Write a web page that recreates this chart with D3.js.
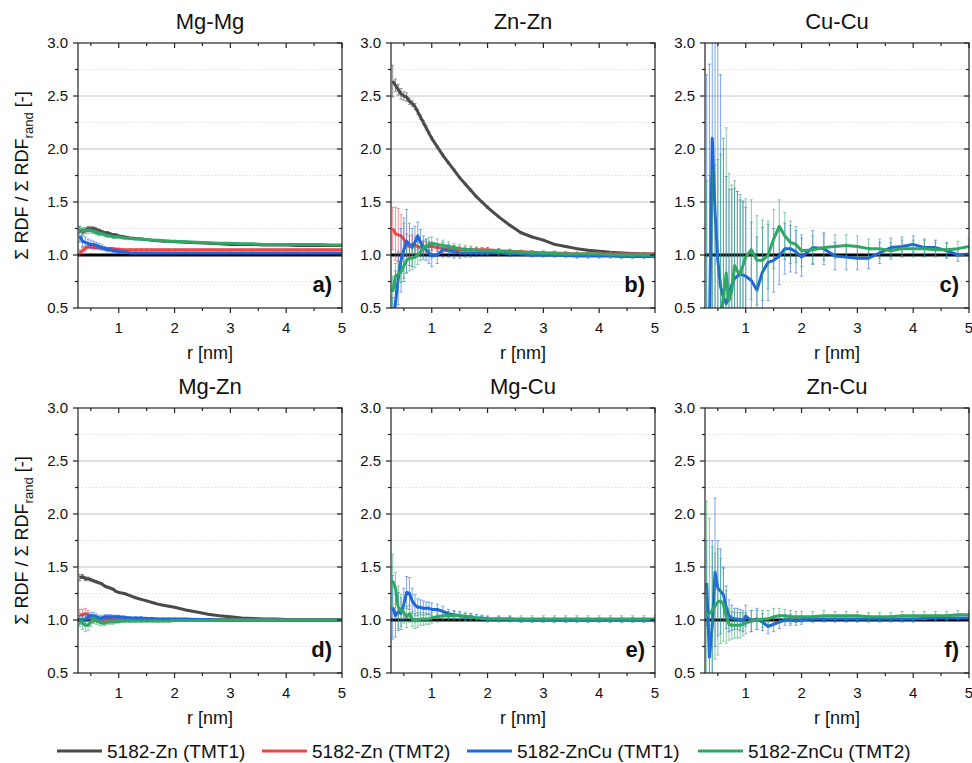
<!DOCTYPE html>
<html>
<head>
<meta charset="utf-8">
<script src="https://cdn.jsdelivr.net/npm/d3@7"></script>
<style>
  body { margin: 0; background: #fff; }
  svg text { font-family: "Liberation Sans", Arial, sans-serif; fill: #111; }
</style>
</head>
<body>
<svg id="chart" width="972" height="763"></svg>
<script>
// shared r grid [nm]
const rGrid = [0.3,0.35,0.4,0.45,0.5,0.55,0.6,0.65,0.7,0.75,0.8,0.85,0.9,0.95,1.0,1.1,1.2,1.3,1.4,1.5,1.6,1.7,1.8,1.9,2.0,2.2,2.4,2.6,2.8,3.0,3.2,3.4,3.6,3.8,4.0,4.2,4.4,4.6,4.8,5.0]

const seriesNames = ["5182-Zn (TMT1)", "5182-Zn (TMT2)", "5182-ZnCu (TMT1)", "5182-ZnCu (TMT2)"]
const seriesColors = ["#4a4a4a", "#f04646", "#1f66dc", "#2fa865"]
const panelTitles = ["Mg-Mg", "Zn-Zn", "Cu-Cu", "Mg-Zn", "Mg-Cu", "Zn-Cu"]
const panelTags = ["a)", "b)", "c)", "d)", "e)", "f)"]
const xTicks = [1, 2, 3, 4, 5]
const yTicks = [0.5, 1.0, 1.5, 2.0, 2.5, 3.0]

// a) Mg-Mg
const mgMg_zn1 = [1.24,1.22,1.23,1.25,1.25,1.25,1.24,1.23,1.22,1.21,1.21,1.2,1.19,1.19,1.18,1.17,1.16,1.155,1.15,1.145,1.14,1.135,1.13,1.13,1.125,1.12,1.115,1.11,1.105,1.1,1.1,1.1,1.095,1.095,1.095,1.09,1.09,1.09,1.09,1.09]
const mgMg_zn1_err = [0.03,0.025,0.02,0.02,0.02,0.015,0.015,0.015,0.012,0.012,0.01,0.01,0.01,0.01,0.01,0.008,0.008,0.008,0.008,0.008,0.006,0.006,0.006,0.006,0.006,0.006,0.006,0.006,0.006,0.006,0.006,0.006,0.006,0.006,0.006,0.006,0.006,0.006,0.006,0.006]
const mgMg_zn2 = [1.02,1.04,1.06,1.08,1.08,1.07,1.07,1.07,1.065,1.06,1.06,1.06,1.06,1.055,1.055,1.05,1.05,1.05,1.05,1.05,1.05,1.05,1.05,1.05,1.05,1.05,1.05,1.05,1.05,1.05,1.05,1.05,1.05,1.05,1.05,1.05,1.05,1.05,1.05,1.05]
const mgMg_zn2_err = [0.03,0.03,0.025,0.02,0.02,0.02,0.015,0.015,0.012,0.012,0.01,0.01,0.01,0.01,0.01,0.008,0.008,0.008,0.008,0.008,0.006,0.006,0.006,0.006,0.006,0.006,0.006,0.006,0.006,0.006,0.006,0.006,0.006,0.006,0.006,0.006,0.006,0.006,0.006,0.006]
const mgMg_zncu1 = [1.18,1.13,1.12,1.11,1.1,1.1,1.09,1.08,1.07,1.06,1.05,1.05,1.04,1.04,1.03,1.03,1.02,1.02,1.02,1.02,1.02,1.02,1.02,1.02,1.02,1.02,1.02,1.02,1.02,1.02,1.02,1.02,1.02,1.02,1.02,1.02,1.02,1.02,1.02,1.02]
const mgMg_zncu1_err = [0.06,0.05,0.05,0.04,0.04,0.03,0.03,0.03,0.025,0.02,0.02,0.02,0.015,0.015,0.015,0.01,0.01,0.01,0.01,0.01,0.008,0.008,0.008,0.008,0.008,0.006,0.006,0.006,0.006,0.006,0.006,0.006,0.006,0.006,0.006,0.006,0.006,0.006,0.006,0.006]
const mgMg_zncu2 = [1.24,1.23,1.23,1.23,1.23,1.22,1.21,1.2,1.2,1.19,1.18,1.18,1.17,1.17,1.17,1.16,1.155,1.15,1.15,1.145,1.14,1.14,1.135,1.13,1.13,1.125,1.12,1.115,1.11,1.11,1.105,1.105,1.1,1.1,1.1,1.1,1.1,1.1,1.095,1.095]
const mgMg_zncu2_err = [0.03,0.03,0.03,0.025,0.025,0.02,0.02,0.02,0.015,0.015,0.012,0.012,0.012,0.01,0.01,0.01,0.01,0.008,0.008,0.008,0.008,0.008,0.008,0.008,0.008,0.006,0.006,0.006,0.006,0.006,0.006,0.006,0.006,0.006,0.006,0.006,0.006,0.006,0.006,0.006]

// b) Zn-Zn
const znZn_zn1 = [2.64,2.6,2.56,2.52,2.5,2.49,2.45,2.43,2.4,2.35,2.3,2.25,2.2,2.15,2.1,2.02,1.94,1.87,1.8,1.73,1.67,1.61,1.55,1.5,1.45,1.36,1.28,1.21,1.17,1.14,1.1,1.08,1.06,1.045,1.035,1.025,1.02,1.015,1.01,1.01]
const znZn_zn1_err = [0.15,0.06,0.05,0.05,0.04,0.04,0.03,0.03,0.03,0.025,0.02,0.02,0.02,0.015,0.015,0.012,0.012,0.01,0.01,0.01,0.01,0.01,0.01,0.01,0.01,0.008,0.008,0.008,0.008,0.008,0.008,0.008,0.008,0.008,0.008,0.008,0.008,0.008,0.008,0.008]
const znZn_zn2 = [1.25,1.2,1.19,1.18,1.15,1.1,1.08,1.1,1.09,1.08,1.07,1.08,1.08,1.08,1.08,1.07,1.06,1.06,1.055,1.05,1.05,1.05,1.05,1.05,1.05,1.04,1.035,1.03,1.025,1.02,1.02,1.015,1.01,1.01,1.01,1.01,1.01,1.01,1.01,1.01]
const znZn_zn2_err = [0.2,0.25,0.25,0.2,0.15,0.1,0.1,0.09,0.08,0.07,0.06,0.05,0.05,0.045,0.04,0.035,0.035,0.03,0.03,0.03,0.025,0.025,0.02,0.02,0.02,0.02,0.015,0.015,0.015,0.015,0.015,0.015,0.015,0.015,0.015,0.015,0.015,0.015,0.015,0.015]
const znZn_zncu1 = [0.3,0.55,0.78,0.95,1.05,1.13,1.1,1.07,1.12,1.18,1.12,1.07,1.05,1.02,0.99,1.0,1.05,1.04,1.03,1.02,1.02,1.02,1.02,1.02,1.02,1.02,1.01,1.01,1.0,1.0,1.0,0.995,0.99,0.99,0.99,0.99,0.985,0.985,0.985,0.985]
const znZn_zncu1_err = [0.3,0.3,0.25,0.3,0.3,0.3,0.2,0.18,0.15,0.13,0.12,0.11,0.1,0.1,0.1,0.08,0.07,0.06,0.06,0.05,0.04,0.04,0.035,0.03,0.03,0.025,0.025,0.02,0.02,0.02,0.02,0.02,0.02,0.02,0.02,0.02,0.02,0.02,0.02,0.02]
const znZn_zncu2 = [0.65,0.8,0.82,0.84,0.9,0.95,0.97,0.97,0.98,1.0,1.03,1.06,1.08,1.1,1.11,1.1,1.09,1.08,1.07,1.06,1.055,1.05,1.045,1.04,1.04,1.035,1.03,1.025,1.02,1.02,1.015,1.01,1.01,1.01,1.01,1.005,1.0,1.0,1.0,1.0]
const znZn_zncu2_err = [0.15,0.12,0.12,0.1,0.12,0.12,0.12,0.11,0.1,0.09,0.08,0.07,0.07,0.065,0.06,0.05,0.05,0.045,0.04,0.04,0.035,0.035,0.03,0.03,0.03,0.025,0.025,0.02,0.02,0.02,0.02,0.02,0.02,0.02,0.02,0.02,0.02,0.02,0.02,0.02]

// c) Cu-Cu
const cuCu_zncu1 = [0.2,0.3,2.1,1.4,0.95,0.7,0.6,0.54,0.62,0.72,0.78,0.8,0.82,0.81,0.8,0.76,0.67,0.84,0.93,0.95,0.99,1.06,1.06,1.03,0.98,1.07,1.06,0.99,0.98,0.97,0.97,1.02,1.07,1.08,1.1,1.07,1.07,1.04,1.0,1.01]
const cuCu_zncu1_err = [2.5,2.5,2.5,2.5,2.5,2.0,1.5,1.2,1.0,0.9,0.85,0.8,0.75,0.7,0.65,0.55,0.5,0.42,0.36,0.3,0.27,0.24,0.22,0.2,0.18,0.16,0.15,0.13,0.12,0.11,0.1,0.1,0.09,0.09,0.08,0.08,0.07,0.07,0.06,0.06]
const cuCu_zncu2 = [0.2,0.25,0.3,0.35,0.4,0.45,0.6,0.83,0.57,0.66,0.9,0.85,0.82,0.9,0.98,1.05,0.95,0.95,1.0,1.15,1.27,1.18,1.12,1.1,1.04,1.05,1.07,1.08,1.09,1.08,1.06,1.06,1.04,1.06,1.06,1.06,1.05,1.05,1.06,1.08]
const cuCu_zncu2_err = [1.5,1.5,1.5,1.5,1.5,1.5,1.4,1.37,1.2,1.0,0.8,0.75,0.7,0.6,0.55,0.47,0.42,0.38,0.32,0.28,0.25,0.22,0.2,0.17,0.15,0.13,0.12,0.11,0.1,0.1,0.09,0.09,0.08,0.08,0.08,0.08,0.07,0.07,0.07,0.07]

// d) Mg-Zn
const mgZn_zn1 = [1.4,1.41,1.39,1.39,1.38,1.37,1.36,1.35,1.34,1.32,1.31,1.3,1.29,1.27,1.26,1.25,1.23,1.21,1.195,1.18,1.165,1.15,1.14,1.13,1.12,1.095,1.075,1.055,1.04,1.03,1.02,1.015,1.01,1.01,1.005,1.0,1.0,1.0,1.0,1.0]
const mgZn_zn1_err = [0.03,0.02,0.02,0.015,0.015,0.012,0.012,0.01,0.01,0.01,0.01,0.008,0.008,0.008,0.008,0.008,0.006,0.006,0.006,0.006,0.006,0.006,0.006,0.006,0.006,0.005,0.005,0.005,0.005,0.005,0.005,0.005,0.005,0.005,0.005,0.005,0.005,0.005,0.005,0.005]
const mgZn_zn2 = [1.05,1.05,1.06,1.05,1.02,1.0,1.01,1.0,1.0,1.0,1.0,1.0,1.005,1.005,1.005,1.0,1.0,1.0,1.0,1.0,1.0,1.0,1.0,1.0,1.0,1.0,1.0,1.0,1.0,1.0,1.0,1.0,1.0,1.0,1.0,1.0,1.0,1.0,1.0,1.0]
const mgZn_zn2_err = [0.05,0.05,0.05,0.04,0.03,0.03,0.025,0.02,0.02,0.02,0.015,0.015,0.015,0.012,0.012,0.01,0.01,0.01,0.01,0.01,0.008,0.008,0.008,0.008,0.008,0.006,0.006,0.006,0.006,0.006,0.006,0.006,0.006,0.006,0.006,0.006,0.006,0.006,0.006,0.006]
const mgZn_zncu1 = [1.0,1.0,1.01,1.03,1.04,1.04,1.03,1.02,1.02,1.03,1.03,1.03,1.03,1.03,1.03,1.025,1.02,1.02,1.02,1.015,1.015,1.01,1.01,1.01,1.01,1.01,1.005,1.005,1.0,1.0,1.0,1.0,1.0,1.0,1.0,1.0,1.0,1.0,1.0,1.0]
const mgZn_zncu1_err = [0.04,0.04,0.04,0.035,0.03,0.03,0.025,0.025,0.02,0.02,0.02,0.02,0.015,0.015,0.015,0.012,0.012,0.01,0.01,0.01,0.01,0.008,0.008,0.008,0.008,0.006,0.006,0.006,0.006,0.006,0.006,0.006,0.006,0.006,0.006,0.006,0.006,0.006,0.006,0.006]
const mgZn_zncu2 = [0.99,0.97,0.95,0.95,0.98,1.01,0.99,0.98,0.97,0.97,0.98,0.98,0.98,0.985,0.985,0.99,0.99,0.99,0.99,0.99,0.99,0.99,0.99,0.99,0.995,0.995,0.995,0.995,1.0,1.0,1.0,1.0,1.0,1.0,1.0,1.0,1.0,1.0,1.0,1.0]
const mgZn_zncu2_err = [0.05,0.06,0.06,0.05,0.04,0.04,0.03,0.03,0.025,0.02,0.02,0.02,0.02,0.015,0.015,0.015,0.012,0.012,0.01,0.01,0.01,0.01,0.008,0.008,0.008,0.008,0.008,0.008,0.008,0.008,0.008,0.008,0.008,0.008,0.008,0.008,0.008,0.008,0.008,0.008]

// e) Mg-Cu
const mgCu_zncu1 = [1.12,1.04,1.08,1.06,1.15,1.26,1.25,1.18,1.14,1.12,1.12,1.11,1.11,1.11,1.1,1.1,1.08,1.06,1.05,1.04,1.03,1.03,1.02,1.02,1.01,1.01,1.01,1.0,1.0,1.0,1.0,1.0,1.0,1.0,1.0,1.0,1.0,1.0,1.0,1.0]
const mgCu_zncu1_err = [0.3,0.2,0.18,0.15,0.15,0.15,0.15,0.12,0.1,0.08,0.07,0.07,0.06,0.06,0.06,0.05,0.05,0.04,0.04,0.03,0.03,0.03,0.03,0.02,0.02,0.02,0.02,0.02,0.02,0.02,0.02,0.02,0.02,0.02,0.02,0.02,0.02,0.02,0.02,0.02]
const mgCu_zncu2 = [1.37,1.3,1.12,1.09,1.07,1.03,1.06,1.01,0.99,1.0,1.01,1.01,1.01,1.01,1.02,1.03,1.04,1.04,1.04,1.04,1.035,1.03,1.02,1.015,1.01,1.01,1.01,1.01,1.01,1.01,1.01,1.01,1.01,1.01,1.01,1.01,1.01,1.01,1.01,1.01]
const mgCu_zncu2_err = [0.25,0.15,0.2,0.15,0.1,0.1,0.08,0.07,0.07,0.07,0.06,0.06,0.05,0.05,0.05,0.05,0.04,0.04,0.04,0.04,0.04,0.03,0.03,0.03,0.03,0.03,0.03,0.03,0.03,0.03,0.03,0.03,0.03,0.03,0.03,0.03,0.03,0.03,0.03,0.03]

// f) Zn-Cu
const znCu_zncu1 = [1.35,0.65,0.95,1.45,1.3,1.27,1.24,1.12,1.04,1.02,1.01,1.01,1.0,0.99,1.04,0.99,1.01,0.98,0.94,0.96,0.98,1.0,1.0,0.99,1.0,1.01,1.01,1.01,1.01,1.01,1.01,1.01,1.01,1.01,1.01,1.015,1.02,1.02,1.02,1.02]
const znCu_zncu1_err = [0.4,0.3,0.8,0.7,0.45,0.4,0.25,0.2,0.15,0.12,0.1,0.1,0.1,0.1,0.1,0.1,0.1,0.08,0.07,0.07,0.06,0.05,0.05,0.04,0.04,0.03,0.03,0.03,0.03,0.03,0.03,0.03,0.03,0.03,0.03,0.03,0.03,0.03,0.03,0.03]
const znCu_zncu2 = [1.04,1.06,1.09,1.13,1.17,1.18,1.15,1.03,0.96,0.95,0.95,0.95,0.95,0.96,0.97,0.99,1.0,1.01,1.01,1.03,1.04,1.04,1.03,1.03,1.03,1.03,1.04,1.04,1.04,1.04,1.03,1.03,1.03,1.04,1.04,1.04,1.04,1.04,1.05,1.05]
const znCu_zncu2_err = [1.08,0.9,0.6,0.5,0.5,0.4,0.35,0.25,0.15,0.13,0.12,0.12,0.12,0.11,0.1,0.1,0.09,0.08,0.08,0.08,0.07,0.06,0.06,0.05,0.05,0.05,0.05,0.04,0.04,0.04,0.04,0.04,0.04,0.04,0.04,0.04,0.04,0.04,0.04,0.04]

// which series index (colour) goes with which arrays
const panelSeries = [
    [[0, mgMg_zn1, mgMg_zn1_err], [1, mgMg_zn2, mgMg_zn2_err], [2, mgMg_zncu1, mgMg_zncu1_err], [3, mgMg_zncu2, mgMg_zncu2_err]],
    [[0, znZn_zn1, znZn_zn1_err], [1, znZn_zn2, znZn_zn2_err], [2, znZn_zncu1, znZn_zncu1_err], [3, znZn_zncu2, znZn_zncu2_err]],
    [[2, cuCu_zncu1, cuCu_zncu1_err], [3, cuCu_zncu2, cuCu_zncu2_err]],
    [[0, mgZn_zn1, mgZn_zn1_err], [1, mgZn_zn2, mgZn_zn2_err], [2, mgZn_zncu1, mgZn_zncu1_err], [3, mgZn_zncu2, mgZn_zncu2_err]],
    [[2, mgCu_zncu1, mgCu_zncu1_err], [3, mgCu_zncu2, mgCu_zncu2_err]],
    [[2, znCu_zncu1, znCu_zncu1_err], [3, znCu_zncu2, znCu_zncu2_err]]
]

const svg = d3.select("#chart")

const colLeft = [78, 391, 705]
const rowTop = [43, 408]
const pw = 264, ph = 265

let xScale = d3.scaleLinear().domain([0.27, 5]).range([0, pw])
let yScale = d3.scaleLinear().domain([0.5, 3.0]).range([ph, 0])

panelTitles.forEach((title, i) => {
    let col = i % 3, row = Math.floor(i / 3)
    let g = svg.append("g").attr("transform", `translate(${colLeft[col]},${rowTop[row]})`)

    g.append("clipPath").attr("id", "clip" + i)
        .append("rect").attr("width", pw).attr("height", ph)

    // grid lines
    let minorY = d3.range(0.75, 3.0, 0.5)
    g.selectAll(".minor").data(minorY).enter().append("line")
        .attr("x1", 0).attr("x2", pw)
        .attr("y1", d => yScale(d)).attr("y2", d => yScale(d))
        .attr("stroke", "#d8d8d8").attr("stroke-width", 0.8).attr("stroke-dasharray", "1.5,2")
    g.selectAll(".major").data([1.0, 1.5, 2.0, 2.5]).enter().append("line")
        .attr("x1", 0).attr("x2", pw)
        .attr("y1", d => yScale(d)).attr("y2", d => yScale(d))
        .attr("stroke", "#c4c4c4").attr("stroke-width", 1)

    let plot = g.append("g").attr("clip-path", `url(#clip${i})`)

    // reference line at 1
    plot.append("line")
        .attr("x1", 0).attr("x2", pw)
        .attr("y1", yScale(1)).attr("y2", yScale(1))
        .attr("stroke", "#000").attr("stroke-width", 3)

    let line = d3.line()
        .x((d, j) => xScale(rGrid[j]))
        .y(d => yScale(d))

    panelSeries[i].forEach(([s, vals, errs]) => {
        let c = seriesColors[s]
        let eb = plot.append("g").attr("stroke", c).attr("stroke-width", 0.9).attr("opacity", 0.65)
        vals.forEach((v, j) => {
            let x = xScale(rGrid[j])
            let y0 = yScale(v - errs[j]), y1 = yScale(v + errs[j])
            eb.append("line").attr("x1", x).attr("x2", x).attr("y1", y0).attr("y2", y1)
            eb.append("line").attr("x1", x - 1.5).attr("x2", x + 1.5).attr("y1", y0).attr("y2", y0)
            eb.append("line").attr("x1", x - 1.5).attr("x2", x + 1.5).attr("y1", y1).attr("y2", y1)
        })
        plot.append("path")
            .datum(vals)
            .attr("d", line)
            .attr("fill", "none")
            .attr("stroke", c)
            .attr("stroke-width", 3)
            .attr("stroke-linejoin", "round")
    })

    // axes: outward bottom/left, inward top/right
    let xMinor = [0.5, 1.5, 2.5, 3.5, 4.5]
    let frame = g.append("g").attr("stroke", "#222").attr("stroke-width", 1.2)
    frame.append("rect").attr("width", pw).attr("height", ph).attr("fill", "none")
    xTicks.concat(xMinor).forEach(t => {
        let len = xTicks.includes(t) ? 5 : 3
        let x = xScale(t)
        frame.append("line").attr("x1", x).attr("x2", x).attr("y1", ph).attr("y2", ph + len)
        frame.append("line").attr("x1", x).attr("x2", x).attr("y1", 0).attr("y2", len)
    })
    yTicks.concat(minorY).forEach(t => {
        let len = yTicks.includes(t) ? 5 : 3
        let y = yScale(t)
        frame.append("line").attr("x1", -len).attr("x2", 0).attr("y1", y).attr("y2", y)
        frame.append("line").attr("x1", pw - len).attr("x2", pw).attr("y1", y).attr("y2", y)
    })

    g.selectAll(".xl").data(xTicks).enter().append("text")
        .attr("x", d => xScale(d)).attr("y", ph + 25)
        .attr("text-anchor", "middle").attr("font-size", 15)
        .text(d => d)
    g.selectAll(".yl").data(yTicks).enter().append("text")
        .attr("x", -10).attr("y", d => yScale(d) + 5)
        .attr("text-anchor", "end").attr("font-size", 15)
        .text(d => d.toFixed(1))

    g.append("text").attr("x", pw / 2).attr("y", ph + 51)
        .attr("text-anchor", "middle").attr("font-size", 18)
        .text("r [nm]")
    g.append("text").attr("x", pw / 2).attr("y", -14)
        .attr("text-anchor", "middle").attr("font-size", 22)
        .text(title)
    g.append("text").attr("x", pw - 10).attr("y", ph - 16)
        .attr("text-anchor", "end").attr("font-size", 22).attr("font-weight", "bold")
        .text(panelTags[i])

    if (col == 0) {
        let yl = g.append("text")
            .attr("transform", `translate(${-50},${ph / 2}) rotate(-90)`)
            .attr("text-anchor", "middle").attr("font-size", 18)
        yl.append("tspan").text("\u03A3 RDF / \u03A3 RDF")
        yl.append("tspan").attr("font-size", 13).attr("dy", 5).text("rand")
        yl.append("tspan").attr("dy", -5).text(" [-]")
    }
})

// legend
const legendX = [57, 262, 467, 698]
let legend = svg.append("g").attr("transform", "translate(0,751)")
seriesNames.forEach((name, i) => {
    legend.append("line")
        .attr("x1", legendX[i]).attr("x2", legendX[i] + 45)
        .attr("stroke", seriesColors[i]).attr("stroke-width", 3)
    legend.append("text")
        .attr("x", legendX[i] + 50).attr("y", 6.5)
        .attr("font-size", 19)
        .text(name)
})
</script>
</body>
</html>
